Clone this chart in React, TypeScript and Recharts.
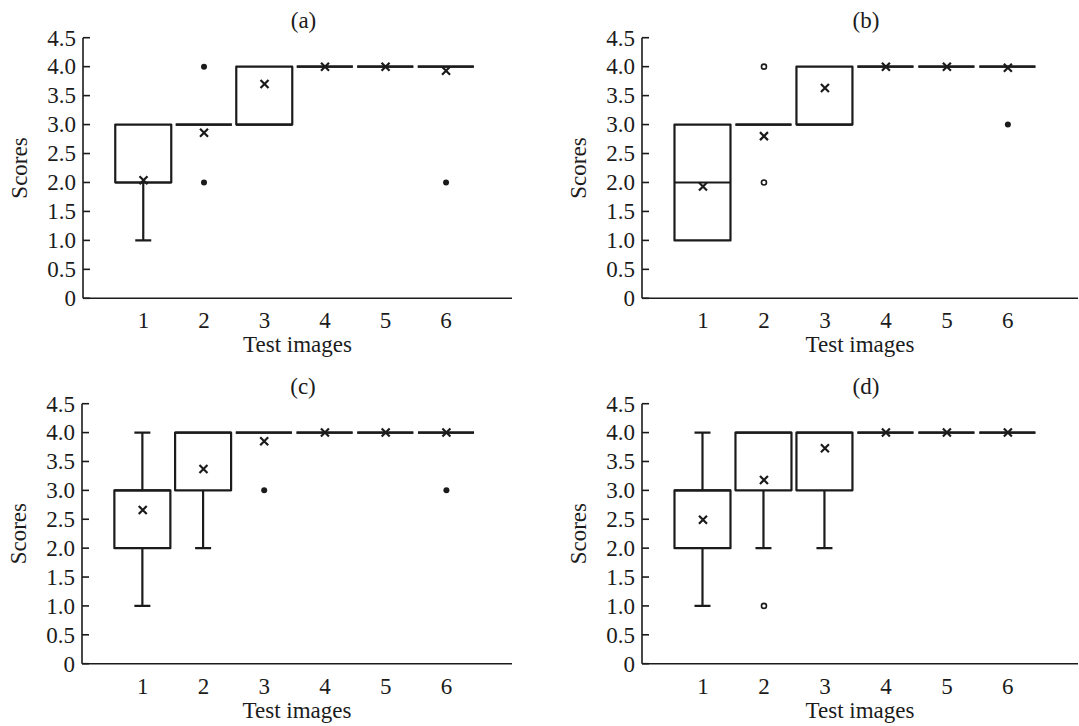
import { ComposedChart, Bar, Scatter, XAxis, YAxis } from 'recharts';

const CATEGORIES = [1, 2, 3, 4, 5, 6];
const Y_TICKS = [0, 0.5, 1, 1.5, 2, 2.5, 3, 3.5, 4, 4.5];

// panel (a)
const A_Q1 = [2, 3, 3, 4, 4, 4];
const A_Q3 = [3, 3, 4, 4, 4, 4];
const A_MEDIAN = [2, 3, 3, 4, 4, 4];
const A_MIN = [1, 3, 3, 4, 4, 4];
const A_MAX = [3, 3, 4, 4, 4, 4];
const A_MEAN = [2.04, 2.86, 3.7, 4.0, 4.0, 3.93];
const A_OUT_CAT = [2, 2, 6];
const A_OUT_VAL = [4, 2, 2];
const A_OUT_HOLLOW = [false, false, false];

// panel (b)
const B_Q1 = [1, 3, 3, 4, 4, 4];
const B_Q3 = [3, 3, 4, 4, 4, 4];
const B_MEDIAN = [2, 3, 3, 4, 4, 4];
const B_MIN = [1, 3, 3, 4, 4, 4];
const B_MAX = [3, 3, 4, 4, 4, 4];
const B_MEAN = [1.93, 2.8, 3.63, 4.0, 4.0, 3.98];
const B_OUT_CAT = [2, 2, 6];
const B_OUT_VAL = [4, 2, 3];
const B_OUT_HOLLOW = [true, true, false];

// panel (c)
const C_Q1 = [2, 3, 4, 4, 4, 4];
const C_Q3 = [3, 4, 4, 4, 4, 4];
const C_MEDIAN = [3, 4, 4, 4, 4, 4];
const C_MIN = [1, 2, 4, 4, 4, 4];
const C_MAX = [4, 4, 4, 4, 4, 4];
const C_MEAN = [2.66, 3.37, 3.85, 4.0, 4.0, 4.0];
const C_OUT_CAT = [3, 6];
const C_OUT_VAL = [3, 3];
const C_OUT_HOLLOW = [false, false];

// panel (d)
const D_Q1 = [2, 3, 3, 4, 4, 4];
const D_Q3 = [3, 4, 4, 4, 4, 4];
const D_MEDIAN = [3, 4, 4, 4, 4, 4];
const D_MIN = [1, 2, 2, 4, 4, 4];
const D_MAX = [4, 4, 4, 4, 4, 4];
const D_MEAN = [2.49, 3.18, 3.73, 4.0, 4.0, 4.0];
const D_OUT_CAT = [2];
const D_OUT_VAL = [1];
const D_OUT_HOLLOW = [true];

const INK = '#1b1b1b';
const FONT = '"Liberation Serif", "Times New Roman", serif';
const FONT_SIZE = 23;
const BOX_W = 56;
const CAP_HALF = 8;
const Y_AXIS_W = 70;
const X_AXIS_H = 50;

const buildRows = (q1, q3, med, min, max) =>
  CATEGORIES.map((cat, i) => ({
    cat,
    box: [q1[i], q3[i]],
    med: [med[i], med[i]],
    lw: min[i] < q1[i] ? [min[i], q1[i]] : null,
    uw: max[i] > q3[i] ? [q3[i], max[i]] : null,
  }));

const buildPoints = (cats, vals, hollow?) =>
  cats.map((cat, i) => ({ cat, v: vals[i], hollow: hollow ? hollow[i] : false }));

const BoxShape = (props) => {
  const { x, y, width, height } = props;
  const top = Math.min(y, y + height);
  const h = Math.abs(height);
  if (h < 0.5) {
    return <line x1={x} x2={x + width} y1={top} y2={top} stroke={INK} strokeWidth={2.2} />;
  }
  return (
    <rect x={x} y={top} width={width} height={h} fill="none" stroke={INK}
      strokeWidth={2.2} strokeLinejoin="round" />
  );
};

const MedianShape = (props) => {
  const { x, y, width, height } = props;
  const yy = Math.min(y, y + height);
  return <line x1={x} x2={x + width} y1={yy} y2={yy} stroke={INK} strokeWidth={2.2} />;
};

const LowerWhisker = (props) => {
  const { x, y, width, height, payload } = props;
  if (!payload || !payload.lw) return <g />;
  const cx = x + width / 2;
  const top = Math.min(y, y + height);
  const bottom = Math.max(y, y + height);
  return (
    <g stroke={INK} strokeWidth={2.2}>
      <line x1={cx} x2={cx} y1={top} y2={bottom} />
      <line x1={cx - CAP_HALF} x2={cx + CAP_HALF} y1={bottom} y2={bottom} />
    </g>
  );
};

const UpperWhisker = (props) => {
  const { x, y, width, height, payload } = props;
  if (!payload || !payload.uw) return <g />;
  const cx = x + width / 2;
  const top = Math.min(y, y + height);
  const bottom = Math.max(y, y + height);
  return (
    <g stroke={INK} strokeWidth={2.2}>
      <line x1={cx} x2={cx} y1={top} y2={bottom} />
      <line x1={cx - CAP_HALF} x2={cx + CAP_HALF} y1={top} y2={top} />
    </g>
  );
};

const MeanMark = (props) => {
  const { cx, cy } = props;
  const s = 4;
  return (
    <path d={`M${cx - s},${cy - s}L${cx + s},${cy + s}M${cx - s},${cy + s}L${cx + s},${cy - s}`}
      stroke={INK} strokeWidth={2.2} fill="none" />
  );
};

const OutlierMark = (props) => {
  const { cx, cy, payload } = props;
  if (payload && payload.hollow) {
    return <circle cx={cx} cy={cy} r={2.5} fill="#fff" stroke={INK} strokeWidth={1.6} />;
  }
  return <circle cx={cx} cy={cy} r={3} fill={INK} />;
};

const YTick = (props) => {
  const { x, y, payload } = props;
  const v = payload.value;
  const label = v === 0 ? '0' : v.toFixed(1);
  return (
    <g>
      <line x1={x + 7} x2={x + 14} y1={y} y2={y} stroke={INK} strokeWidth={1.6} />
      <text x={x} y={y} dy="0.34em" textAnchor="end" fontFamily={FONT}
        fontSize={FONT_SIZE} fill={INK}>{label}</text>
    </g>
  );
};

const XTick = (props) => {
  const { x, y, payload } = props;
  return (
    <text x={x} y={y + 30} textAnchor="middle" fontFamily={FONT} fontSize={FONT_SIZE} fill={INK}>
      {payload.value}
    </text>
  );
};

function Panel({ title, left, top, width, height, plot, xMax, q1, q3, med, min, max, mean, outCat, outVal, outHollow }) {
  const rows = buildRows(q1, q3, med, min, max);
  const means = buildPoints(CATEGORIES, mean);
  const outliers = buildPoints(outCat, outVal, outHollow);
  const margin = {
    top: plot.top,
    left: plot.left - Y_AXIS_W,
    right: width - plot.right,
    bottom: height - plot.bottom - X_AXIS_H,
  };
  const midX = (plot.left + plot.right) / 2;
  const midY = (plot.top + plot.bottom) / 2;
  const labelX = plot.left - 56;
  // invisible axes, one per box part, so that the parts overlap instead of sitting side by side
  const hiddenAxis = (id) => (
    <XAxis xAxisId={id} dataKey="cat" type="number" domain={[0, xMax]} ticks={CATEGORIES}
      orientation="top" height={0} hide allowDataOverflow />
  );

  return (
    <div style={{ position: 'absolute', left, top }}>
      <ComposedChart width={width} height={height} data={rows} margin={margin}>
        <XAxis xAxisId="main" dataKey="cat" type="number" domain={[0, xMax]} ticks={CATEGORIES}
          interval={0} height={X_AXIS_H} tickSize={0} tickMargin={0} tickLine={false}
          axisLine={{ stroke: INK, strokeWidth: 1.6 }} tick={(p) => <XTick {...p} />} allowDataOverflow />
        {hiddenAxis('box')}
        {hiddenAxis('med')}
        {hiddenAxis('lw')}
        {hiddenAxis('uw')}
        <YAxis type="number" domain={[0, 4.5]} ticks={Y_TICKS} interval={0} width={Y_AXIS_W}
          tickSize={0} tickMargin={7} tickLine={false}
          axisLine={{ stroke: INK, strokeWidth: 1.6 }} tick={(p) => <YTick {...p} />} allowDataOverflow />
        <Bar xAxisId="lw" dataKey="lw" barSize={BOX_W} shape={LowerWhisker} isAnimationActive={false} />
        <Bar xAxisId="uw" dataKey="uw" barSize={BOX_W} shape={UpperWhisker} isAnimationActive={false} />
        <Bar xAxisId="box" dataKey="box" barSize={BOX_W} shape={BoxShape} isAnimationActive={false} />
        <Bar xAxisId="med" dataKey="med" barSize={BOX_W} shape={MedianShape} isAnimationActive={false} />
        <Scatter xAxisId="main" data={means} dataKey="v" shape={MeanMark} isAnimationActive={false} />
        <Scatter xAxisId="main" data={outliers} dataKey="v" shape={OutlierMark} isAnimationActive={false} />
        <text x={midX + 6} y={plot.top - 10} textAnchor="middle" fontFamily={FONT} fontSize={FONT_SIZE} fill={INK}>
          {title}
        </text>
        <text x={labelX} y={midY} textAnchor="middle" fontFamily={FONT} fontSize={FONT_SIZE} fill={INK}
          transform={`rotate(-90 ${labelX} ${midY})`}>
          Scores
        </text>
        <text x={midX} y={plot.bottom + 54} textAnchor="middle" fontFamily={FONT} fontSize={FONT_SIZE} fill={INK}>
          Test images
        </text>
      </ComposedChart>
    </div>
  );
}

export default function App() {
  return (
    <div style={{ position: 'absolute', left: 0, top: 0, width: 1079, height: 726, background: '#fff' }}>
      <Panel title="(a)" left={0} top={0} width={540} height={363}
        plot={{ left: 83, top: 37.7, right: 512, bottom: 298.3 }} xMax={7.09}
        q1={A_Q1} q3={A_Q3} med={A_MEDIAN} min={A_MIN} max={A_MAX} mean={A_MEAN}
        outCat={A_OUT_CAT} outVal={A_OUT_VAL} outHollow={A_OUT_HOLLOW} />
      <Panel title="(b)" left={540} top={0} width={539} height={363}
        plot={{ left: 102, top: 37.7, right: 538, bottom: 298.3 }} xMax={7.15}
        q1={B_Q1} q3={B_Q3} med={B_MEDIAN} min={B_MIN} max={B_MAX} mean={B_MEAN}
        outCat={B_OUT_CAT} outVal={B_OUT_VAL} outHollow={B_OUT_HOLLOW} />
      <Panel title="(c)" left={0} top={363} width={540} height={363}
        plot={{ left: 82, top: 40.7, right: 512, bottom: 300.7 }} xMax={7.08}
        q1={C_Q1} q3={C_Q3} med={C_MEDIAN} min={C_MIN} max={C_MAX} mean={C_MEAN}
        outCat={C_OUT_CAT} outVal={C_OUT_VAL} outHollow={C_OUT_HOLLOW} />
      <Panel title="(d)" left={540} top={363} width={539} height={363}
        plot={{ left: 102, top: 40.7, right: 538, bottom: 300.7 }} xMax={7.15}
        q1={D_Q1} q3={D_Q3} med={D_MEDIAN} min={D_MIN} max={D_MAX} mean={D_MEAN}
        outCat={D_OUT_CAT} outVal={D_OUT_VAL} outHollow={D_OUT_HOLLOW} />
    </div>
  );
}
